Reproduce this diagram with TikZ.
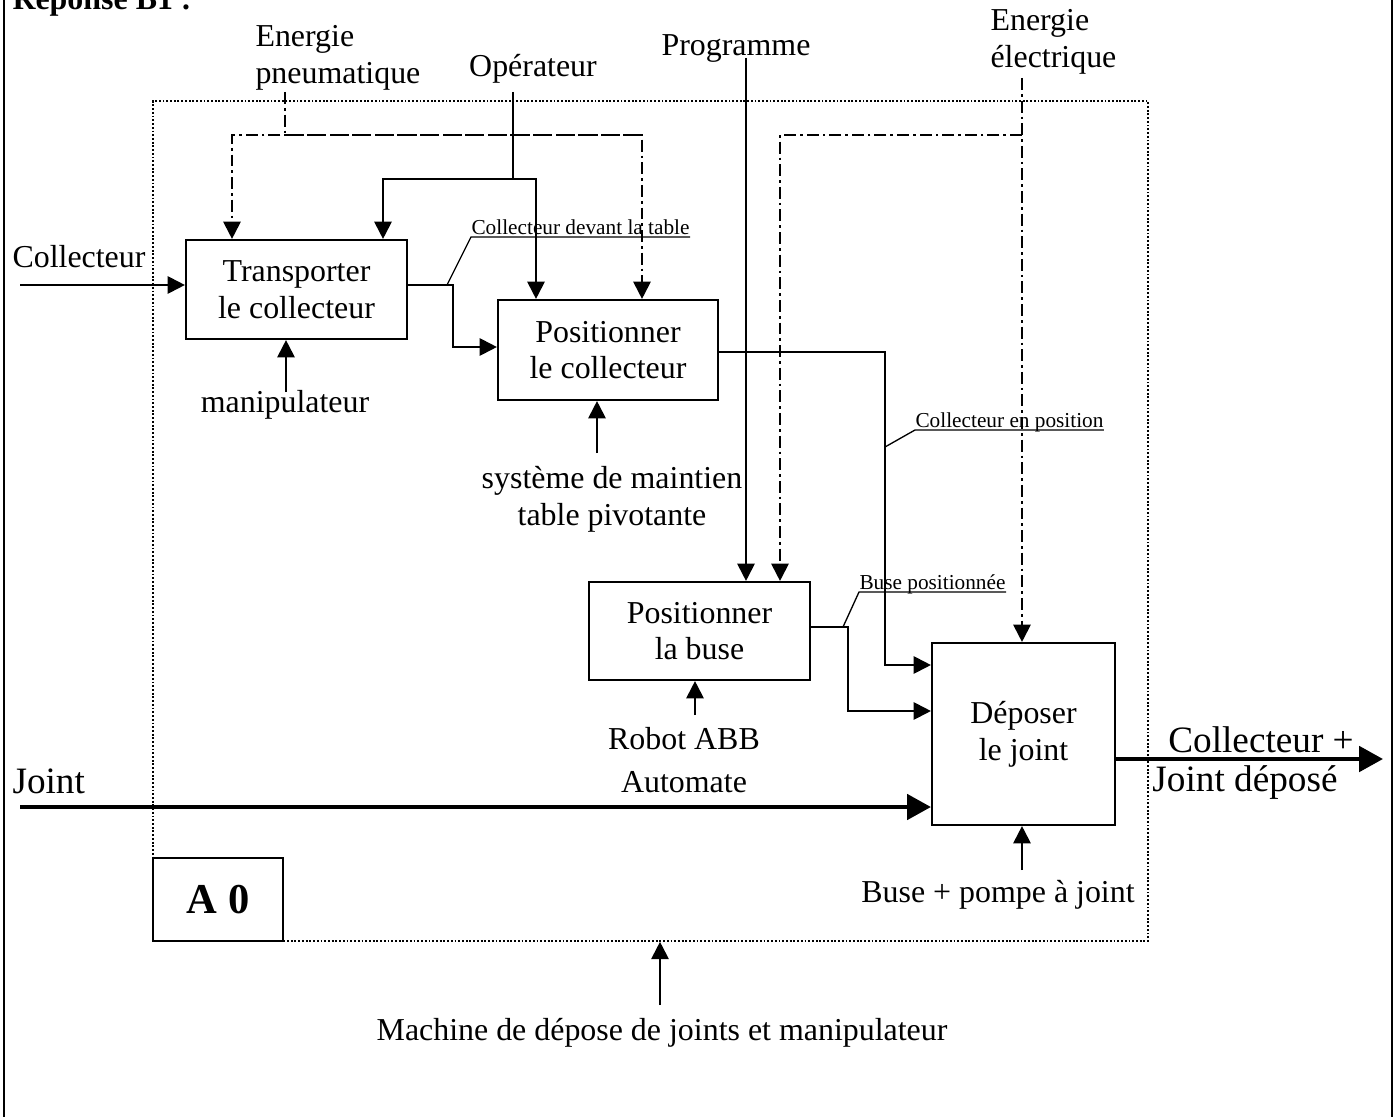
\documentclass[tikz,border=0pt]{standalone}
\usepackage{fontspec}
\setmainfont{Liberation Serif}
\usetikzlibrary{arrows.meta}
\newcommand\pxu{0.376pt}
\tikzset{
  fct/.style={rectangle, draw, line width=0.8pt, fill=white, align=center,
              font=\fontsize{12}{13.8}\selectfont, inner sep=0pt},
  ctl/.style={-{Triangle[length=6.5pt,width=6.5pt]}, line width=0.75pt},
  nrg/.style={ctl, dash pattern=on 4.5pt off 1.5pt on 1pt off 1.5pt},
  flux/.style={-{Triangle[length=9pt,width=9.5pt]}, line width=1.6pt},
  txt/.style={font=\fontsize{12}{13.8}\selectfont, inner sep=0pt, align=center},
  bigtxt/.style={font=\fontsize{14}{16}\selectfont, inner sep=0pt},
  lbl/.style={font=\fontsize{8}{9.6}\selectfont, anchor=south west,
              inner xsep=0pt, inner ysep=0.8pt, text depth=0pt},
  lead/.style={line width=0.5pt},
  cadre/.style={draw, line width=0.6pt, dash pattern=on 0.7pt off 0.7pt, inner sep=0pt},
}

\begin{document}
\begin{tikzpicture}[x=\pxu,y=-\pxu]
  \useasboundingbox (0,0) rectangle (1395,1117);

  % page border
  \draw[line width=1.1pt] (4,0) -- (4,1117);
  \draw[line width=1.1pt] (1392,0) -- (1392,1117);
  \node[anchor=base west, inner sep=0pt, font=\fontsize{12}{13.8}\selectfont\bfseries] (titre) at (12,10) {Réponse B1 :};

  % A0 frame
  \node[cadre, minimum width=995*\pxu, minimum height=840*\pxu] (a0cadre) at (650.5,521) {};
  \node[fct, minimum width=130*\pxu, minimum height=83*\pxu, font=\fontsize{16}{18}\selectfont\bfseries] (a0) at (218,899.5) {A 0};

  % functions
  \node[fct, minimum width=221*\pxu, minimum height=99*\pxu]  (transp)  at (296.5,289.5) {Transporter\\le collecteur};
  \node[fct, minimum width=220*\pxu, minimum height=100*\pxu] (poscol)  at (608,350)     {Positionner\\le collecteur};
  \node[fct, minimum width=221*\pxu, minimum height=98*\pxu]  (posbuse) at (699.5,631)   {Positionner\\la buse};
  \node[fct, minimum width=183*\pxu, minimum height=182*\pxu] (depot)   at (1023.5,734)  {Déposer\\le joint};

  % outside texts
  \node[txt, anchor=west] (collin) at (12,257) {Collecteur};
  \node[txt, anchor=west, align=left] (pneu) at (255,58) {Energie\\pneumatique};
  \node[txt] (oper) at (533,69) {Opérateur};
  \node[txt] (prog) at (736,48) {Programme};
  \node[txt, anchor=west, align=left] (elec) at (990,42) {Energie\\électrique};
  \node[txt] (manip) at (285,405) {manipulateur};
  \node[txt] (maint) at (612,499) {système de maintien\\table pivotante};
  \node[txt] (robot) at (684,760) {Robot ABB\\[2.4pt]Automate};
  \node[bigtxt, anchor=west] (jointin) at (12,781) {Joint};
  \node[bigtxt] (sortie1) at (1261,740) {Collecteur +};
  \node[bigtxt] (sortie2) at (1245,783) {Joint déposé};
  \node[txt] (pompe) at (998,895) {Buse + pompe à joint};
  \node[txt] (machine) at (662,1033) {Machine de dépose de joints et manipulateur};

  % free ends
  \coordinate (cin)    at (20,285);
  \coordinate (jin)    at (20,807);
  \coordinate (jout)   at (1383,759);
  \coordinate (pneu0)  at (285,92);
  \coordinate (oper0)  at (513,92);
  \coordinate (prog0)  at (746,58);
  \coordinate (elec0)  at (1022,78);
  \coordinate (manip0) at (286,392);
  \coordinate (maint0) at (597,453);
  \coordinate (robot0) at (695,715);
  \coordinate (pompe0) at (1022,870);
  \coordinate (mach0)  at (660,1005);

  % energies
  \draw[nrg, -] (pneu0) -- (285,135);
  \draw[nrg] (642,135) -| (232,0 |- transp.north);
  \draw[nrg] (285,135) -| (642,0 |- poscol.north);
  \draw[nrg] (elec0) -- (elec0 |- depot.north);
  \draw[nrg] (1022,135) -| (780,0 |- posbuse.north);

  % controls
  \draw[ctl, -] (oper0) -- (513,179);
  \draw[ctl] (513,179) -| (383,0 |- transp.north);
  \draw[ctl] (513,179) -| (536,0 |- poscol.north);
  \draw[ctl] (prog0) -- (prog0 |- posbuse.north);

  % flows
  \draw[ctl] (cin) -- (cin -| transp.west);
  \draw[ctl] (transp.east |- cin) -- (453,285) |- (poscol.west |- 0,347);
  \draw[ctl] (poscol.east |- 0,352) -- (885,352) |- (depot.west |- 0,665);
  \draw[ctl] (posbuse.east |- 0,627) -- (848,627) |- (depot.west |- 0,711);
  \draw[flux] (jin) -- (jin -| depot.west);
  \draw[flux] (depot.east |- jout) -- (jout);

  % mechanisms
  \draw[ctl] (manip0) -- (manip0 |- transp.south);
  \draw[ctl] (maint0) -- (maint0 |- poscol.south);
  \draw[ctl] (robot0) -- (robot0 |- posbuse.south);
  \draw[ctl] (pompe0) -- (pompe0 |- depot.south);
  \draw[ctl] (mach0) -- (mach0 |- a0cadre.south);

  % flow labels
  \node[lbl] (ldevant) at (471,237) {Collecteur devant la table};
  \draw[lead] (447,285) -- (ldevant.south west) -- (ldevant.south east);
  \node[lbl] (lenpos) at (915,430) {Collecteur en position};
  \draw[lead] (885,447) -- (lenpos.south west) -- (lenpos.south east);
  \node[lbl] (lbuse) at (859,592) {Buse positionnée};
  \draw[lead] (843,627) -- (lbuse.south west) -- (lbuse.south east);
\end{tikzpicture}
\end{document}
